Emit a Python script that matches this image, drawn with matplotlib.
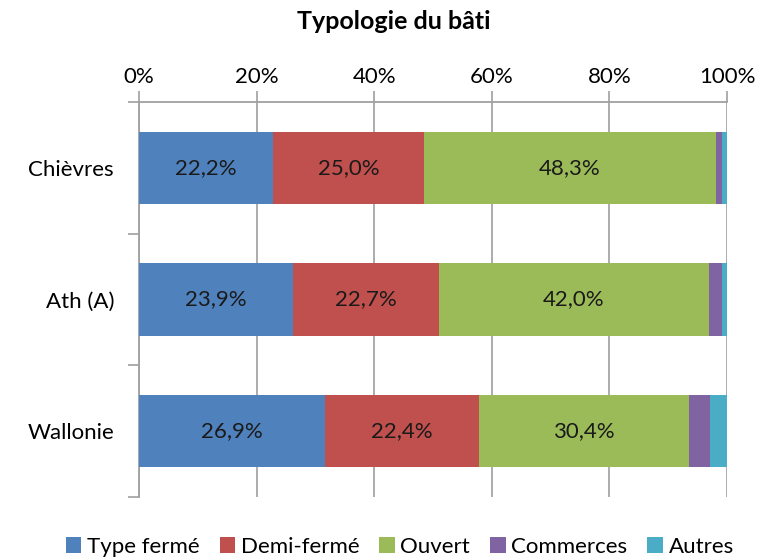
import matplotlib
matplotlib.use("Agg")
import matplotlib.pyplot as plt
import numpy as np

plt.rcParams['font.family'] = ['Lato', 'DejaVu Sans']

categories = ["Chièvres", "Ath (A)", "Wallonie"]
series_names = ["Type fermé", "Demi-fermé", "Ouvert", "Commerces", "Autres"]
colors = ["#4F81BD", "#C0504D", "#9BBB59", "#8064A2", "#4BACC6"]

# bar widths (share of 100%)
type_ferme = [22.8, 26.2, 31.7]
demi_ferme = [25.6, 24.8, 26.1]
ouvert = [49.7, 45.9, 35.7]
commerces = [1.1, 2.3, 3.6]
autres = [0.8, 0.8, 2.9]

# printed data labels
label_type_ferme = ["22,2%", "23,9%", "26,9%"]
label_demi_ferme = ["25,0%", "22,7%", "22,4%"]
label_ouvert = ["48,3%", "42,0%", "30,4%"]

x_ticks = [0, 20, 40, 60, 80, 100]
x_ticklabels = ["0%", "20%", "40%", "60%", "80%", "100%"]

series = [type_ferme, demi_ferme, ouvert, commerces, autres]
labels = [label_type_ferme, label_demi_ferme, label_ouvert, None, None]

fig = plt.figure(figsize=(7.69, 5.58), dpi=100)
ax = fig.add_axes([139/769, 1 - 497/558, (727 - 139)/769, (497 - 102)/558])

y = np.arange(len(categories))
left = np.zeros(len(categories))
handles = []
for vals, name, col, labs in zip(series, series_names, colors, labels):
    bars = ax.barh(y, vals, left=left, height=0.55, color=col, label=name, zorder=3)
    handles.append(bars)
    if labs is not None:
        ax.bar_label(bars, labels=labs, label_type='center', fontsize=16, color='#1a1a1a')
    left = left + np.array(vals)

ax.set_xlim(0, 100)
ax.set_ylim(2.5, -0.5)
ax.xaxis.tick_top()
ax.set_xticks(x_ticks)
ax.set_xticklabels(x_ticklabels, fontsize=16)
ax.tick_params(axis='x', direction='out', length=8, width=1.2, color='#a0a0a0', pad=3)
ax.grid(axis='x', color='#a6a6a6', linewidth=1.3, zorder=0)

ax.set_yticks(y)
ax.set_yticklabels(categories, fontsize=16)
ax.set_yticks([-0.5, 0.5, 1.5, 2.5], minor=True)
ax.tick_params(axis='y', which='major', length=0, pad=18)
ax.tick_params(axis='y', which='minor', direction='out', length=8, width=1.2, color='#a0a0a0')

for s in ['right', 'bottom']:
    ax.spines[s].set_visible(False)
for s in ['left', 'top']:
    ax.spines[s].set_color('#a0a0a0')
    ax.spines[s].set_linewidth(1.3)

fig.text(0.512, 0.962, "Typologie du bâti", ha='center', va='center', fontsize=18, fontweight='bold')

fig.legend(handles=handles, labels=series_names, loc='center', bbox_to_anchor=(0.52, 0.02),
           ncol=5, frameon=False, fontsize=16, handlelength=0.7, handleheight=0.7,
           handletextpad=0.25, columnspacing=0.9, borderaxespad=0)

fig.savefig("out.png", dpi=100)
